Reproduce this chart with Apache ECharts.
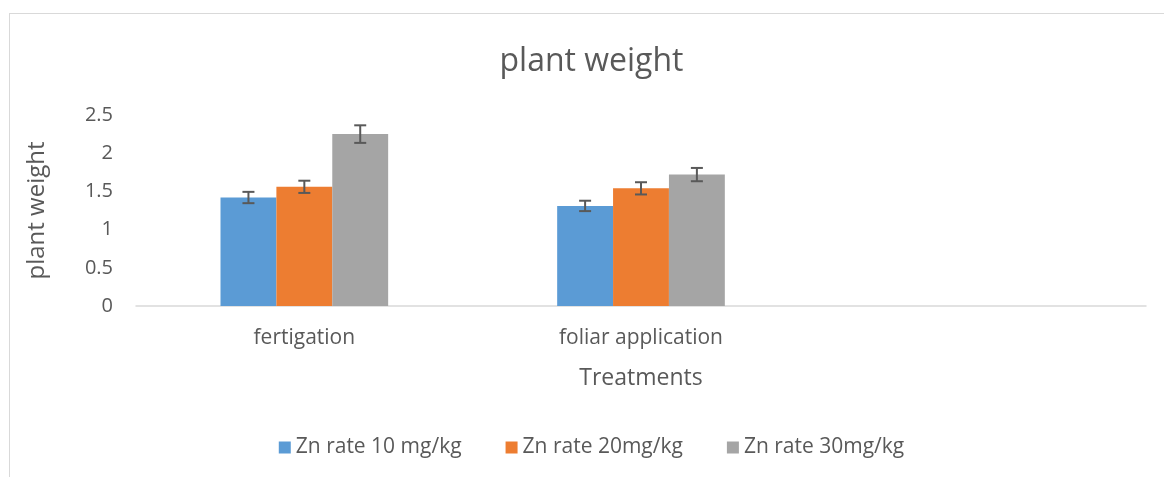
<!DOCTYPE html>
<html>
<head>
<meta charset="utf-8">
<script src="https://cdn.jsdelivr.net/npm/echarts@6/dist/echarts.min.js"></script>
<style>
  html, body { margin: 0; padding: 0; background: #fff; overflow: hidden; }
  #main { position: absolute; left: 9px; top: 13px; width: 1164px; height: 470px;
          border-left: 1px solid #d9d9d9; border-top: 1px solid #d9d9d9; box-sizing: border-box; }
</style>
</head>
<body>
<div id="main"></div>
<script>
// data
var categories = ['fertigation', 'foliar application', ''];
var seriesNames = ['Zn rate 10 mg/kg', 'Zn rate 20mg/kg', 'Zn rate 30mg/kg'];
var zn10 = [1.42, 1.31, null];
var zn20 = [1.56, 1.54, null];
var zn30 = [2.25, 1.72, null];
var err10 = [0.074, 0.068, null];
var err20 = [0.08, 0.08, null];
var err30 = [0.115, 0.087, null];
var yTicks = [0, 0.5, 1, 1.5, 2, 2.5];

var colors = ['#5b9bd5', '#ed7d31', '#a5a5a5'];
var font = '"Open Sans", Lato, sans-serif';
var barPct = 0.166;

var values = [zn10, zn20, zn30];
var errs = [err10, err20, err30];

var myChart = echarts.init(document.getElementById('main'));

function errorSeries (idx) {
  var data = [];
  for (var i = 0; i < categories.length; i++) {
    if (values[idx][i] != null) {
      data.push([i, values[idx][i] - errs[idx][i], values[idx][i] + errs[idx][i]]);
    }
  }
  return {
    type: 'custom',
    name: seriesNames[idx],
    data: data,
    z: 10,
    renderItem: function (params, api) {
      var x = api.value(0);
      var lo = api.coord([x, api.value(1)]);
      var hi = api.coord([x, api.value(2)]);
      var bw = api.size([1, 0])[0] * barPct;
      var cx = lo[0] + (idx - 1) * bw;
      var cap = 6;
      var style = { stroke: '#595959', lineWidth: 2 };
      return {
        type: 'group',
        children: [
          { type: 'line', shape: { x1: cx, y1: lo[1], x2: cx, y2: hi[1] }, style: style },
          { type: 'line', shape: { x1: cx - cap, y1: lo[1], x2: cx + cap, y2: lo[1] }, style: style },
          { type: 'line', shape: { x1: cx - cap, y1: hi[1], x2: cx + cap, y2: hi[1] }, style: style }
        ]
      };
    }
  };
}

var series = [];
for (var s = 0; s < 3; s++) {
  series.push({
    name: seriesNames[s],
    type: 'bar',
    data: values[s],
    barWidth: (barPct * 100) + '%',
    barGap: '0%',
    itemStyle: { color: colors[s] }
  });
}
for (var s = 0; s < 3; s++) {
  series.push(errorSeries(s));
}

option = {
  animation: false,
  color: colors,
  title: {
    text: 'plant weight',
    left: 'center',
    top: 27,
    textStyle: { fontFamily: font, fontSize: 32, fontWeight: 'normal', color: '#595959' }
  },
  legend: {
    data: seriesNames.map(function (n, i) { return { name: n, itemStyle: { color: colors[i] } }; }),
    bottom: 20,
    left: 'center',
    icon: 'rect',
    itemWidth: 12,
    itemHeight: 12,
    itemGap: 44,
    textStyle: { fontFamily: font, fontSize: 21, color: '#595959' }
  },
  grid: { left: 126, right: 27, top: 101, bottom: 177 },
  xAxis: {
    type: 'category',
    data: categories,
    name: 'Treatments',
    nameLocation: 'middle',
    nameGap: 61,
    nameTextStyle: { fontFamily: font, fontSize: 23, color: '#595959' },
    axisLine: { lineStyle: { color: '#d9d9d9', width: 1.5 } },
    axisTick: { show: false },
    axisLabel: { fontFamily: font, fontSize: 21, color: '#595959', margin: 22 }
  },
  yAxis: {
    type: 'value',
    min: yTicks[0],
    max: yTicks[yTicks.length - 1],
    interval: 0.5,
    name: 'plant weight',
    nameLocation: 'middle',
    nameGap: 87,
    nameTextStyle: { fontFamily: font, fontSize: 24, color: '#595959' },
    axisLine: { show: false },
    axisTick: { show: false },
    splitLine: { show: false },
    axisLabel: { fontFamily: font, fontSize: 20, color: '#595959', margin: 23 }
  },
  series: series
};

myChart.setOption(option);
</script>
</body>
</html>
